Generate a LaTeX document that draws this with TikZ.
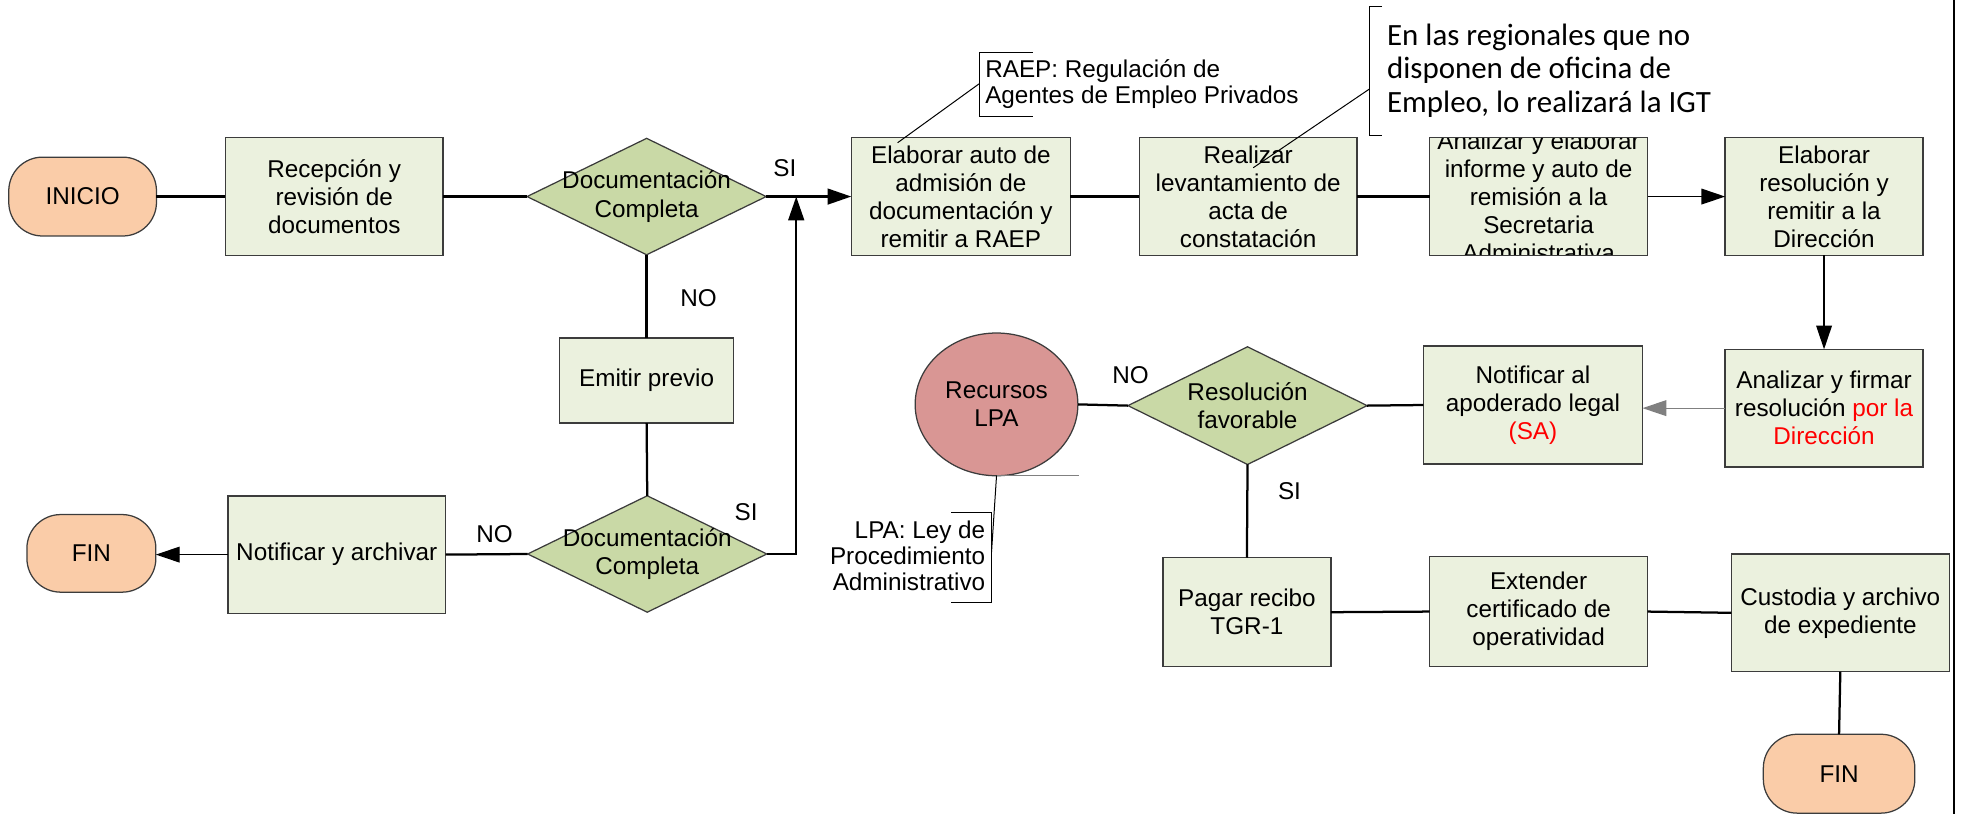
\documentclass[tikz,border=0pt]{standalone}
\usepackage{fontspec}
\setmainfont{Liberation Sans}
\newfontfamily\calib{Carlito}
\usetikzlibrary{shapes.geometric,arrows.meta,calc}
\definecolor{peach}{RGB}{250,204,168}
\definecolor{boxfill}{RGB}{235,241,222}
\definecolor{dfill}{RGB}{201,217,166}
\definecolor{rfill}{RGB}{217,150,148}
\definecolor{bord}{RGB}{60,60,60}
\definecolor{txtred}{RGB}{255,0,0}
\begin{document}
\begin{tikzpicture}[x=0.5pt,y=-0.5pt,
  every node/.style={inner sep=0pt, outer sep=0pt},
  txt/.style={font=\fontsize{9.7}{11.2}\selectfont, align=center},
  procbox/.style={draw=bord, line width=0.6pt, fill=boxfill, rectangle, txt},
  term/.style={draw=bord, line width=0.5pt, fill=peach, rectangle, rounded corners=13.5pt, txt},
  decis/.style={draw=bord, line width=0.5pt, fill=dfill, diamond},
  conn/.style={line width=0.9pt, black},
  thinconn/.style={line width=0.5pt, black},
  arr/.style={conn, -{Triangle[length=9.5pt,width=6.3pt]}},
  thinarr/.style={thinconn, -{Triangle[length=9.5pt,width=6.3pt]}},
  note/.style={line width=0.4pt, black},
  lbl/.style={txt},
]
\useasboundingbox (0,0) rectangle (1568,650);

% ---------- nodes ----------
\node[term, minimum width=59pt, minimum height=31.5pt] (ini) at (66,157) {INICIO};
\node[procbox, minimum width=87pt, minimum height=47pt] (rec) at (267,157) {Recepción y\\revisión de\\documentos};
\node[decis, minimum width=95.5pt, minimum height=46.5pt] (dc1) at (516.5,157) {};
\node[txt] (dc1t) at (dc1.center) {Documentación\\Completa};
\node[procbox, minimum width=87.5pt, minimum height=47pt] (ela) at (767.5,157) {Elaborar auto de\\admisión de\\documentación y\\remitir a RAEP};
\node[procbox, minimum width=87pt, minimum height=47pt] (rea) at (997,157) {Realizar\\levantamiento de\\acta de\\constatación};
\node[procbox, minimum width=87pt, minimum height=47pt] (ana) at (1229,157) {};
\begin{scope}
  \clip (ana.south west) rectangle (ana.north east);
  \node[txt] (anat) at (1229,157) {Analizar y elaborar\\informe y auto de\\remisión a la\\Secretaria\\Administrativa};
\end{scope}
\draw[draw=bord, line width=0.6pt] (ana.south west) rectangle (ana.north east);
\node[procbox, minimum width=79pt, minimum height=47pt] (elr) at (1457,157) {Elaborar\\resolución y\\remitir a la\\Dirección};

\node[procbox, minimum width=69.5pt, minimum height=34pt] (emi) at (516.5,304) {Emitir previo};
\node[decis, minimum width=95.5pt, minimum height=46.5pt] (dc2) at (517,442.5) {};
\node[txt] (dc2t) at (dc2.center) {Documentación\\Completa};
\node[procbox, minimum width=87pt, minimum height=47pt] (nya) at (269,443) {Notificar y archivar};
\node[term, minimum width=51.5pt, minimum height=31pt] (fin1) at (73,442) {FIN};

\node[ellipse, draw=bord, line width=0.5pt, fill=rfill, minimum width=65pt, minimum height=57pt, txt] (rlp) at (796,323) {Recursos\\LPA};
\node[decis, minimum width=95.5pt, minimum height=47pt] (dr) at (996.5,324) {};
\node[txt] (drt) at (dr.center) {Resolución\\favorable};
\node[procbox, minimum width=87.5pt, minimum height=47pt] (not) at (1224.5,323.5) {Notificar al\\apoderado legal\\\textcolor{txtred}{(SA)}};
\node[procbox, minimum width=79pt, minimum height=47pt] (anf) at (1457,326) {Analizar y firmar\\resolución \textcolor{txtred}{por la}\\\textcolor{txtred}{Dirección}};

\node[procbox, minimum width=67pt, minimum height=43.5pt] (pag) at (996,489) {Pagar recibo\\TGR-1};
\node[procbox, minimum width=87pt, minimum height=44pt] (ext) at (1229,488.5) {Extender\\certificado de\\operatividad};
\node[procbox, minimum width=87pt, minimum height=47pt] (cus) at (1470,489.5) {Custodia y archivo\\de expediente};
\node[term, minimum width=60.5pt, minimum height=31.5pt] (fin2) at (1469,618) {FIN};

% ---------- connectors ----------
\draw[conn] (ini.east) -- (rec.west);
\draw[conn] (rec.east) -- (dc1.west);
\draw[arr] (dc1.east) -- (ela.west);
\draw[conn] (dc1.south) -- (emi.north);
\draw[conn] (emi.south) -- (dc2.north);
\coordinate (up) at (636,157);
\draw[arr] (dc2.east) -| (up);
\draw[conn] (dc2.west) -- (nya.east);
\draw[thinarr] (nya.west) -- (nya.west -| fin1.east);
\draw[conn] (ela.east) -- (rea.west);
\draw[conn] (rea.east) -- (ana.west);
\draw[thinarr] (ana.east) -- (elr.west);
\draw[thinarr] (elr.south) -- (anf.north);
\draw[thinarr, draw=gray] (anf.west) -- (anf.west -| not.east);
\draw[conn] (not.west) -- (dr.east);
\draw[conn] (dr.west) -- (rlp.east);
\draw[conn] (dr.south) -- (pag.north);
\draw[conn] (pag.east) -- (ext.west);
\draw[conn] (ext.east) -- (cus.west);
\draw[conn] (cus.south) -- (fin2.north);

% ---------- labels ----------
\node[lbl] (lsi1) at (627,134) {SI};
\node[lbl] (lno1) at (558,238) {NO};
\node[lbl] (lsi2) at (596,409) {SI};
\node[lbl] (lno2) at (395,427) {NO};
\node[lbl] (lno3) at (903,300) {NO};
\node[lbl] (lsi3) at (1030,392) {SI};

% ---------- annotations ----------
\draw[note] (825,42) -- (782,42) -- (782,93) -- (825,93);
\node[anchor=west, align=left, font=\fontsize{9.7}{10.4}\selectfont] (raep) at (787,67.5) {RAEP: Regulación de\\Agentes de Empleo Privados};
\coordinate (raepa) at (782,67);
\coordinate (raepb) at (717,114);
\draw[note] (raepa) -- (raepb);

\draw[note] (1104,5) -- (1094,5) -- (1094,108) -- (1104,108);
\node[anchor=west, align=left, font=\calib\fontsize{12.35}{13.25}\selectfont] (igt) at (1108,56.5) {En las regionales que no\\disponen de oficina de\\Empleo, lo realizará la IGT};
\coordinate (igta) at (1094,71);
\coordinate (igtb) at (1001,134);
\draw[note] (igta) -- (igtb);

\draw[note] (760,409) -- (792,409) -- (792,481) -- (760,481);
\node[anchor=east, align=right, font=\fontsize{9.7}{10.5}\selectfont] (lpa) at (787,444) {LPA: Ley de\\Procedimiento\\Administrativo};
\coordinate (lpaa) at (792,441);
\coordinate (lpab) at (862,380);
\draw[note] (rlp.south) -- (lpaa);
\draw[note, draw=gray] (rlp.south) -- (lpab);

% right frame line
\draw[line width=0.9pt] (1561,0) -- (1561,650);
\end{tikzpicture}
\end{document}
